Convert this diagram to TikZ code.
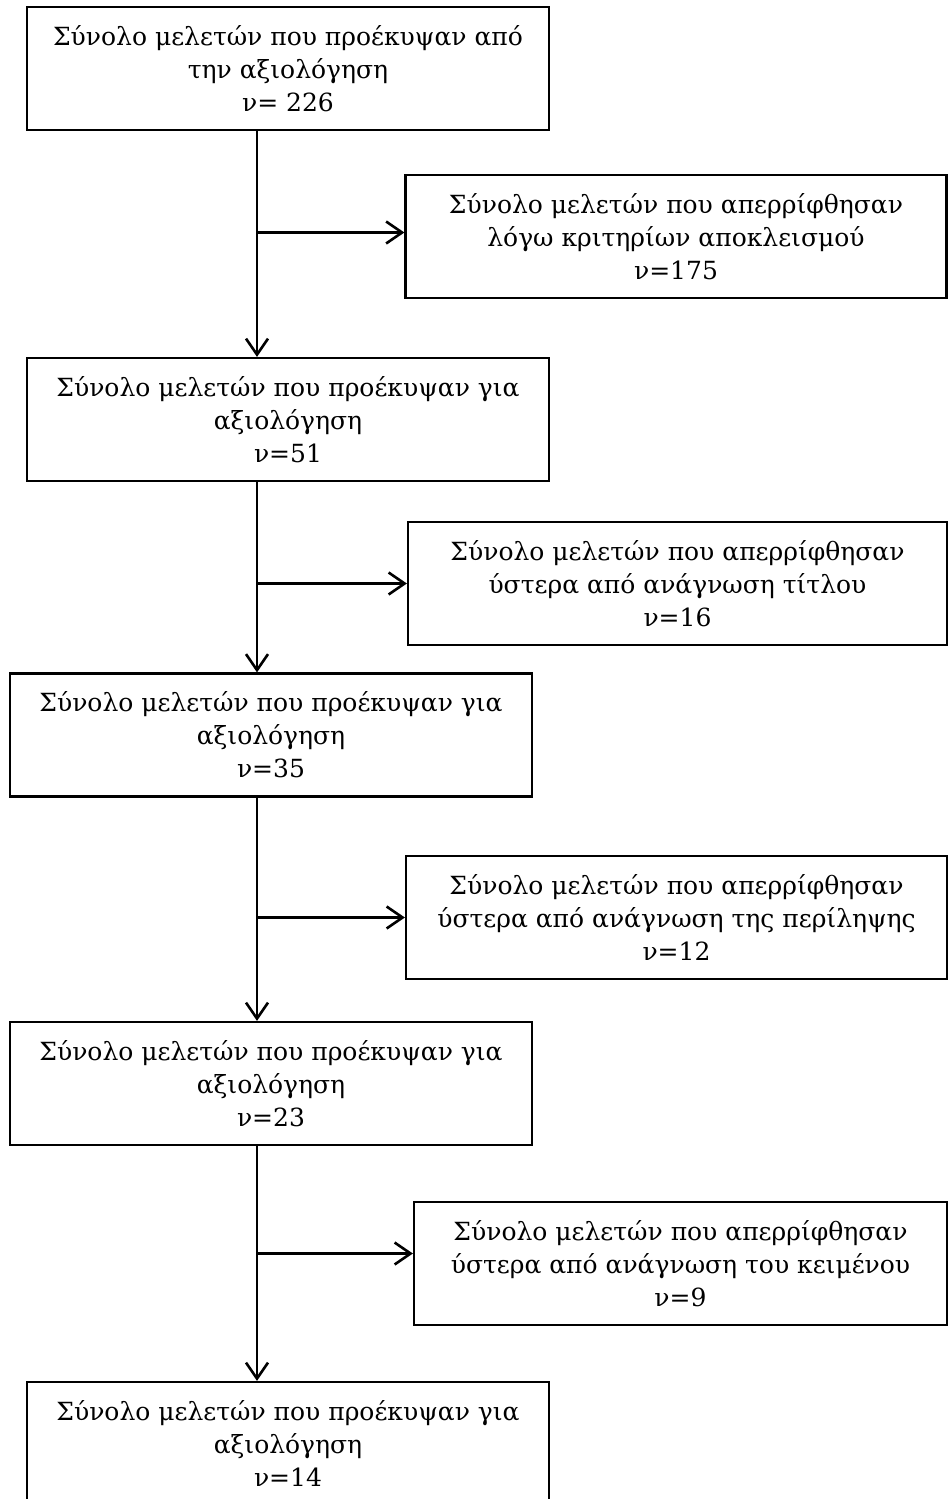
\documentclass[tikz,border=0pt]{standalone}
\usepackage{fontspec}
\setmainfont{DejaVu Serif}
\usetikzlibrary{arrows.meta}
\begin{document}
\begin{tikzpicture}[x=0.5pt,y=-0.5pt,
  box/.style={draw,line width=1.1pt,align=center,inner sep=0pt,minimum height=61.5pt,
    font=\fontsize{12.5}{16.5}\selectfont},
  lbox/.style={box,minimum width=261pt},
  arr/.style={line width=1.3pt,-{Straight Barb[length=8pt,width=11pt]}}]
  \useasboundingbox (0,0) rectangle (948,1499);
  \coordinate (vx) at (257,0);
  \node[lbox] (s1) at (288,68.5) {Σύνολο μελετών που προέκυψαν από\\την αξιολόγηση\\ν= 226};
  \node[box,minimum width=270.5pt] (r1) at (676,236.5) {Σύνολο μελετών που απερρίφθησαν\\λόγω κριτηρίων αποκλεισμού\\ν=175};
  \node[lbox] (s2) at (288,419.5) {Σύνολο μελετών που προέκυψαν για\\αξιολόγηση\\ν=51};
  \node[box,minimum width=269.5pt] (r2) at (677.5,583.5) {Σύνολο μελετών που απερρίφθησαν\\ύστερα από ανάγνωση τίτλου\\ν=16};
  \node[lbox] (s3) at (271,735) {Σύνολο μελετών που προέκυψαν για\\αξιολόγηση\\ν=35};
  \node[box,minimum width=270.5pt] (r3) at (676.5,917.5) {Σύνολο μελετών που απερρίφθησαν\\ύστερα από ανάγνωση της περίληψης\\ν=12};
  \node[lbox] (s4) at (271,1083.5) {Σύνολο μελετών που προέκυψαν για\\αξιολόγηση\\ν=23};
  \node[box,minimum width=266.5pt] (r4) at (680.5,1263.5) {Σύνολο μελετών που απερρίφθησαν\\ύστερα από ανάγνωση του κειμένου\\ν=9};
  \node[lbox] (s5) at (288,1443.5) {Σύνολο μελετών που προέκυψαν για\\αξιολόγηση\\ν=14};
  \coordinate (r1in) at ([yshift=2pt]r1.west);
  \coordinate (r4in) at ([yshift=5pt]r4.west);
  \draw[arr] (s1.south -| vx) -- (s2.north -| vx);
  \draw[arr] (r1in -| vx) -- (r1in);
  \draw[arr] (s2.south -| vx) -- (s3.north -| vx);
  \draw[arr] (r2.west -| vx) -- (r2.west);
  \draw[arr] (s3.south -| vx) -- (s4.north -| vx);
  \draw[arr] (r3.west -| vx) -- (r3.west);
  \draw[arr] (s4.south -| vx) -- (s5.north -| vx);
  \draw[arr] (r4in -| vx) -- (r4in);
\end{tikzpicture}
\end{document}
